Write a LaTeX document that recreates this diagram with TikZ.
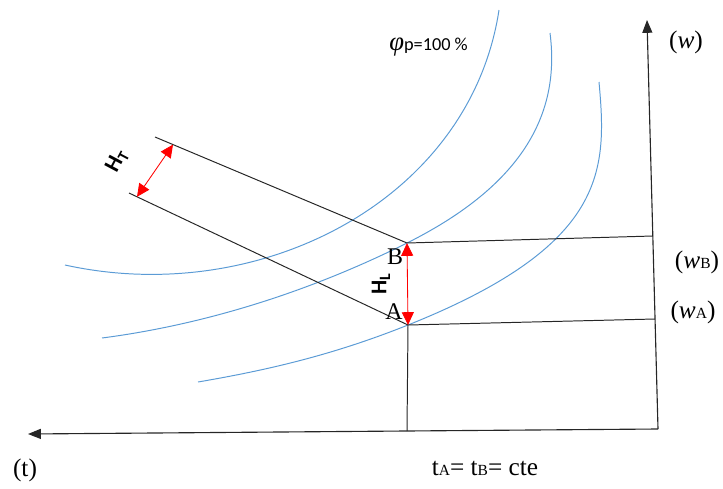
\documentclass[tikz,border=0pt]{standalone}
\usepackage{fontspec}
\setmainfont{Liberation Serif}
\setsansfont{Carlito}
\usepackage{tikz}
\usetikzlibrary{arrows.meta}

\definecolor{curveblue}{RGB}{91,155,213}

\begin{document}
\begin{tikzpicture}[
    x=0.025cm, y=-0.025cm,
    axis/.style={-{Triangle[length=3.2mm, width=2.5mm]}, line width=0.8pt, black!85},
    guide/.style={line width=0.7pt, black!85},
    satcurve/.style={line width=0.7pt, curveblue},
    dimarr/.style={{Triangle[length=3.2mm, width=3mm]}-{Triangle[length=3.2mm, width=3mm]}, red, line width=0.6pt},
    ptlabel/.style={font=\fontsize{17}{17}\selectfont, inner sep=0pt},
    axlabel/.style={font=\fontsize{18}{18}\selectfont, inner sep=0pt},
    hlabel/.style={font=\fontsize{16}{16}\selectfont\sffamily\bfseries, inner sep=0pt}
]
\useasboundingbox (0,0) rectangle (723,488);

% ---- Key points ----
\coordinate (O) at (658,429);
\coordinate (wtip) at (647,20);
\coordinate (ttip) at (28,434);
\coordinate (B) at (407,243);
\coordinate (A) at (408,325);
\coordinate (Bw) at (653,236);
\coordinate (Aw) at (655,319);
\coordinate (At) at (407,431);
\coordinate (Bdiag) at (155,137);
\coordinate (Adiag) at (129,193);
\coordinate (HTtop) at (173,144.6);
\coordinate (HTbot) at (137,196.8);

% ---- Saturation curves ----
\draw[satcurve] (65,265) .. controls (260,308) and (470,200) .. (499,10);
\draw[satcurve] (102,338) .. controls (202,325) and (307,293) .. (B)
    .. controls (527,183) and (560,110) .. (550,33);
\draw[satcurve] (198,382) .. controls (268,370) and (333,355) .. (A)
    .. controls (608,245) and (607,170) .. (599,82);

% ---- Axes ----
\draw[axis] (O) -- (wtip);
\draw[axis] (O) -- (ttip);

% ---- Guide lines ----
\draw[guide] (Bdiag) -- (B) -- (Bw);
\draw[guide] (Adiag) -- (A) -- (Aw);
\draw[guide] (A) -- (At);

% ---- Heights ----
\draw[dimarr] (HTbot) -- (HTtop);
\draw[dimarr] (A) -- (B);

% ---- Labels ----
\node[ptlabel] (Blabel) at (395,257) {B};
\node[ptlabel] (Alabel) at (394,312) {A};
\node[hlabel, rotate=90] (HL) at (381,284) {H\textsubscript{L}};
\node[hlabel, rotate=62] (HT) at (117,161) {H\textsubscript{T}};
\node[anchor=west, inner sep=0pt] (phi) at (389,47)
    {{\fontsize{19}{19}\selectfont\itshape φ}{\sffamily\fontsize{13}{13}\selectfont p=100 \%}};
\node[axlabel] (wlabel) at (686,42) {(\textit{w})};
\node[axlabel] (wBlabel) at (697,262) {(\textit{w}{\fontsize{11}{11}\selectfont B})};
\node[axlabel] (wAlabel) at (693,312) {(\textit{w}{\fontsize{11}{11}\selectfont A})};
\node[axlabel] (tlabel) at (25,470) {(t)};
\node[axlabel] (tAB) at (485,468)
    {t{\fontsize{11}{11}\selectfont A}= t{\fontsize{11}{11}\selectfont B}= cte};

\end{tikzpicture}
\end{document}
